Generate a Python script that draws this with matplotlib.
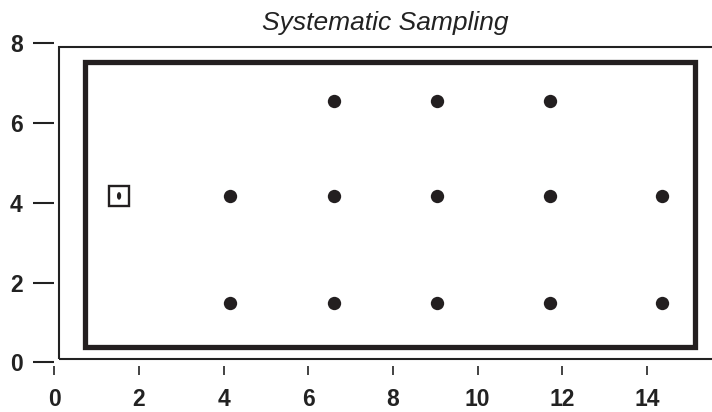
import matplotlib.pyplot as plt
from matplotlib.patches import Rectangle, Ellipse

plt.rcParams['font.family'] = ['Liberation Sans', 'DejaVu Sans']

# sample points (systematic grid)
xs = [6.6, 9.05, 11.7, 4.15, 6.6, 9.05, 11.7, 14.35, 4.15, 6.6, 9.05, 11.7, 14.35]
ys = [6.56, 6.56, 6.56, 4.17, 4.17, 4.17, 4.17, 4.17, 1.49, 1.49, 1.49, 1.49, 1.49]

# starting point marked with a square
start_x = 1.53
start_y = 4.17

# study area boundary
area_x0, area_y0, area_x1, area_y1 = 0.72, 0.39, 15.14, 7.53
# plot frame
frame_x0, frame_y0, frame_y1 = 0.11, 0.08, 7.9

xticks = [0, 2, 4, 6, 8, 10, 12, 14]
yticks = [0, 2, 4, 6, 8]

ink = '#231f20'

fig = plt.figure(figsize=(7.12, 4.12), dpi=100)
ax = fig.add_axes([54.3 / 712, 49.7 / 412, 16 * 42.33 / 712, 8 * 39.9 / 412])
ax.set_xlim(0, 16)
ax.set_ylim(0, 8)

for s in ax.spines.values():
    s.set_visible(False)
ax.spines['bottom'].set_position(('outward', 2.9))

ax.set_xticks(xticks)
ax.set_yticks(yticks)
ax.tick_params(axis='y', direction='out', length=15.3, width=1.5, pad=7.5, labelsize=16.5, color='#222222')
ax.tick_params(axis='x', direction='out', length=6.8, width=1.2, pad=9, labelsize=16.5, color='#222222')
for lab in ax.get_xticklabels() + ax.get_yticklabels():
    lab.set_fontweight('bold')
    lab.set_color('#222222')

# outer frame (runs off the right edge)
ax.add_patch(Rectangle((frame_x0, frame_y0), 17, frame_y1 - frame_y0, fill=False,
                       lw=1.5, edgecolor='#222222', clip_on=False))
# study area
ax.add_patch(Rectangle((area_x0, area_y0), area_x1 - area_x0, area_y1 - area_y0,
                       fill=False, lw=3.8, edgecolor=ink, joinstyle='miter'))

ax.plot(xs, ys, 'o', color=ink, markersize=9.6, markeredgewidth=0)
ax.plot([start_x], [start_y], 's', markersize=14, markerfacecolor='none',
        markeredgecolor=ink, markeredgewidth=1.7)
ax.add_patch(Ellipse((start_x, start_y), 0.1, 0.19, color=ink, lw=0))

fig.text(385 / 712, 382 / 412, 'Systematic Sampling', ha='center', va='baseline',
         fontsize=19, fontstyle='italic', color='#222222')

fig.savefig('out.png', dpi=100)
